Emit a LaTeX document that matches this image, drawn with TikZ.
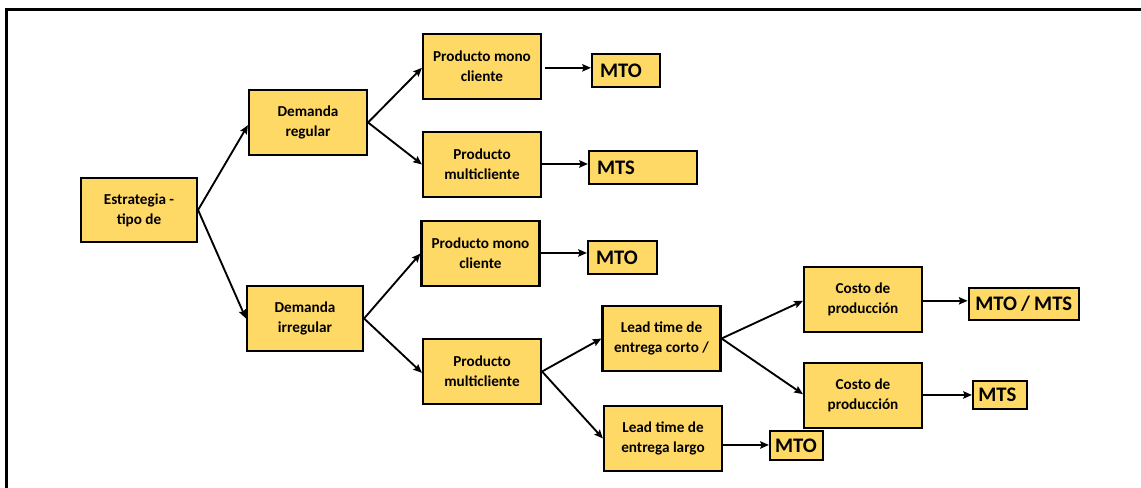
\documentclass[tikz,border=0pt]{standalone}
\usepackage{fontspec}
\setmainfont{Carlito}
\usetikzlibrary{arrows.meta}
\definecolor{boxfill}{HTML}{FFD966}
\tikzset{
  box/.style={draw=black, line width=1.6pt, fill=boxfill, align=center,
    font=\bfseries\fontsize{11.4}{15}\selectfont, inner sep=0pt,
    minimum width=88.5pt, minimum height=48.75pt},
  res/.style={draw=black, line width=1.6pt, fill=boxfill, align=left,
    font=\bfseries\fontsize{15.5}{18}\selectfont, inner xsep=6pt, inner ysep=0pt,
    minimum height=24.75pt},
  conn/.style={line width=1.4pt, -{Stealth[length=6.5pt,width=5.5pt,inset=1pt]}},
}
\begin{document}
\begin{tikzpicture}[x=0.75pt,y=-0.75pt]
\useasboundingbox (0,0) rectangle (1141,488);
\draw[line width=1.6pt] (6.5,488) -- (6.5,9.5) -- (1141,9.5);

\node[box, minimum width=87pt, minimum height=48pt] (est) at (139,210) {Estrategia -\\tipo de};
\node[box] (dr) at (308,122.5) {Demanda\\regular};
\node[box, minimum width=87pt] (di) at (305,318.5) {Demanda\\irregular};
\node[box] (pmc1) at (482,66.5) {Producto mono\\cliente};
\node[box] (pmu1) at (482,164.5) {Producto\\multicliente};
\node[box] (pmc2) at (480.5,253.5) {Producto mono\\cliente};
\node[box] (pmu2) at (482,371.5) {Producto\\multicliente};
\node[box] (lc) at (661.5,338.5) {Lead time de\\entrega corto /};
\node[box] (ll) at (663,438.5) {Lead time de\\entrega largo};
\node[box] (c1) at (863,299.5) {Costo de\\producción};
\node[box] (c2) at (863,395.5) {Costo de\\producción};

\node[res, text width=39pt] (mto1) at (626,70.5) {MTO};
\node[res, text width=69pt] (mts1) at (643,167.5) {MTS};
\node[res, text width=39.75pt] (mto2) at (622.5,257.5) {MTO};
\node[res, text width=32pt, inner xsep=3.9pt, minimum height=21.75pt] (mto3) at (796.5,445.5) {MTO};
\node[res, text width=73pt, inner xsep=5pt, minimum height=24pt] (mm) at (1024,304) {\mbox{\spaceskip=0.2em MTO / MTS}};
\node[res, text width=32.5pt, inner xsep=4pt, minimum height=21pt] (mts3) at (1000,395) {MTS};

\draw[conn] (est.east) -- ([yshift=-2pt]dr.west);
\draw[conn] (est.east) -- (di.west);
\draw[conn] (dr.east) -- ([yshift=-1pt]pmc1.west);
\draw[conn] (dr.east) -- (pmu1.west);
\draw[conn] ([xshift=2pt,yshift=-1pt]pmc1.east) -- ([yshift=-1pt]pmc1.east -| mto1.west);
\draw[conn] ([yshift=0.4pt]pmu1.east) -- ([yshift=0.4pt]pmu1.east -| mts1.west);
\draw[conn] (di.east) -- (pmc2.west);
\draw[conn] (di.east) -- ([yshift=-1pt]pmu2.west);
\draw[conn] ([yshift=0.4pt]pmc2.east) -- ([yshift=0.4pt]pmc2.east -| mto2.west);
\draw[conn] (pmu2.east) -- (lc.west);
\draw[conn] (pmu2.east) -- (ll.west);
\draw[conn] ([yshift=0.4pt]ll.east |- mto3.west) -- ([yshift=0.4pt]mto3.west);
\draw[conn] (lc.east) -- ([yshift=-1pt]c1.west);
\draw[conn] (lc.east) -- ([yshift=1pt]c2.west);
\draw[conn] ([yshift=-1pt]c1.east) -- ([yshift=-1pt]c1.east -| mm.west);
\draw[conn] ([yshift=0.4pt]c2.east) -- ([yshift=0.4pt]c2.east -| mts3.west);
\end{tikzpicture}
\end{document}
